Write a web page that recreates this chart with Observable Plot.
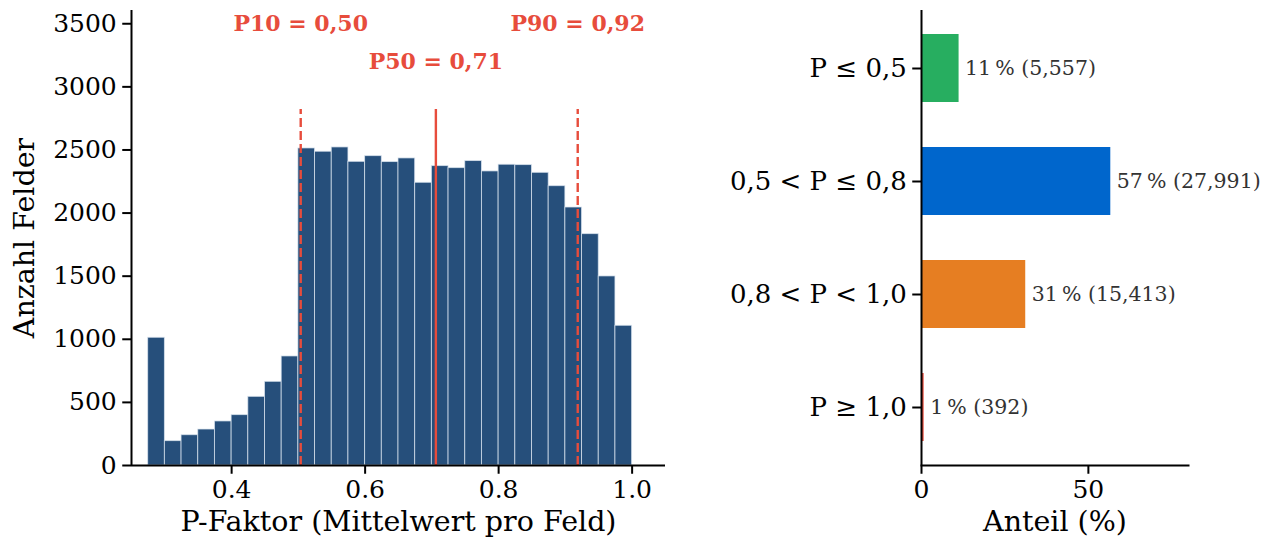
<!DOCTYPE html>
<html><head><meta charset="utf-8">
<script src="https://cdn.jsdelivr.net/npm/d3@7"></script>
<script src="https://cdn.jsdelivr.net/npm/@observablehq/plot@0.6"></script>
<style>
body{margin:0;background:#fff;}
#wrap{position:relative;width:1267px;height:548px;font-family:"DejaVu Serif",serif;}
#left{position:absolute;left:0;top:0;}
#right{position:absolute;left:700px;top:0;}
svg{overflow:visible;}
</style></head><body><div id="wrap"><div id="left"></div><div id="right"></div></div>
<script>
// ---- Histogram data (bin left edges, width 0.025) ----
const binStarts = [0.275,0.300,0.325,0.350,0.375,0.400,0.425,0.450,0.475,0.500,
  0.525,0.550,0.575,0.600,0.625,0.650,0.675,0.700,0.725,0.750,
  0.775,0.800,0.825,0.850,0.875,0.900,0.925,0.950,0.975];
const binCounts = [1012,193,240,285,349,399,544,663,864,2512,
  2486,2520,2406,2451,2404,2433,2240,2372,2356,2412,
  2330,2383,2380,2319,2213,2044,1833,1498,1107];
const binWidth = 0.025;

// ---- Quantile markers ----
const qNames = ["P10","P50","P90"];
const qValues = [0.5035,0.706,0.9185];
const qLabels = ["P10 = 0,50","P50 = 0,71","P90 = 0,92"];
const qLabelY = [3500,3200,3500];
const qDashed = [true,false,true];
const qLineTop = 2820;

// ---- Class shares ----
const classNames = ["P ≤ 0,5","0,5 < P ≤ 0,8","0,8 < P < 1,0","P ≥ 1,0"];
const classCounts = [5557,27991,15413,392];
const classColors = ["#27ae60","#0066cc","#e67e22","#e74c3c"];

// ---- Ticks ----
const histYTicks = [0,500,1000,1500,2000,2500,3000,3500];
const histXTicks = [0.4,0.6,0.8,1.0];
const shareTicks = [0,50];

const histColor = "#264f7b";
const red = "#e74c3c";
const font = "DejaVu Serif";

const hist = binStarts.map((s,i)=>({x1:s, x2:s+binWidth, count:binCounts[i]}));
const quant = qNames.map((n,i)=>({name:n, v:qValues[i], label:qLabels[i], ly:qLabelY[i], dashed:qDashed[i]}));
const total = d3.sum(classCounts);
const classes = classNames.map((n,i)=>({name:n, count:classCounts[i], share:classCounts[i]/total*100, color:classColors[i]}));

const left = Plot.plot({
  width:700, height:548,
  marginLeft:131, marginRight:35, marginTop:10, marginBottom:83,
  style:{fontFamily:font, color:"black", background:"white"},
  x:{domain:[0.25,1.05]},
  y:{domain:[0,3605]},
  marks:[
    Plot.rectY(hist,{x1:"x1", x2:"x2", y:"count", fill:histColor, stroke:"#dce6f0", strokeWidth:0.9, strokeOpacity:0.8}),
    Plot.ruleX(quant.filter(d=>d.dashed),{x:"v", y1:0, y2:qLineTop, stroke:red, strokeWidth:2.4, strokeDasharray:"9,4"}),
    Plot.ruleX(quant.filter(d=>!d.dashed),{x:"v", y1:0, y2:qLineTop, stroke:red, strokeWidth:2.4}),
    Plot.text(quant,{x:"v", y:"ly", text:"label", fill:red, fontWeight:"bold", fontSize:22}),
    Plot.axisY({ticks:histYTicks, tickSize:8.75, tickPadding:6, fontSize:25, strokeWidth:2, tickFormat:d3.format("d"), label:null}),
    Plot.axisX({ticks:histXTicks, tickSize:8.75, tickPadding:6, fontSize:25, strokeWidth:2, tickFormat:d3.format(".1f"), label:null}),
    Plot.ruleX([0.25],{stroke:"black", strokeWidth:2}),
    Plot.ruleY([0],{stroke:"black", strokeWidth:2}),
    Plot.text(["Anzahl Felder"],{frameAnchor:"left", textAnchor:"middle", dx:-107, rotate:-90, fontSize:28.5, fill:"black"}),
    Plot.text(["P-Faktor (Mittelwert pro Feld)"],{frameAnchor:"bottom", dy:65, fontSize:28.5, fill:"black"})
  ]
});
document.getElementById("left").append(left);

const right = Plot.plot({
  width:567, height:548,
  marginLeft:221, marginRight:79, marginTop:10, marginBottom:83,
  style:{fontFamily:font, color:"black", background:"white"},
  x:{domain:[0,80]},
  y:{domain:classNames, paddingInner:0.4, paddingOuter:0.2},
  color:{type:"identity"},
  marks:[
    Plot.barX(classes,{x:"share", y:"name", fill:"color"}),
    Plot.text(classes,{x:"share", y:"name", text:d=>`${Math.round(d.share)}\u202f% (${d3.format(",")(d.count)})`, textAnchor:"start", dx:6, fontSize:20.5, fill:"#333"}),
    Plot.axisY({tickSize:8.75, tickPadding:6, fontSize:26, strokeWidth:2, label:null}),
    Plot.axisX({ticks:shareTicks, tickSize:8.75, tickPadding:6, fontSize:25, strokeWidth:2, label:null}),
    Plot.ruleX([0],{stroke:"black", strokeWidth:2}),
    Plot.frame({anchor:"bottom", stroke:"black", strokeWidth:2}),
    Plot.text(["Anteil (%)"],{frameAnchor:"bottom", dy:65, fontSize:28.5, fill:"black"})
  ]
});
document.getElementById("right").append(right);
</script></body></html>
